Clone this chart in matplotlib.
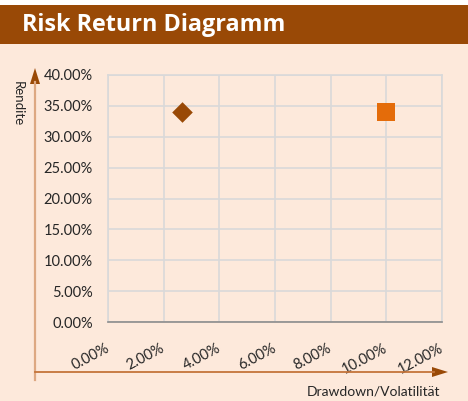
import matplotlib
matplotlib.use("Agg")
import matplotlib.pyplot as plt
from matplotlib.patches import Rectangle, Polygon
from matplotlib.ticker import FuncFormatter, MultipleLocator

W, H = 468, 401
title = "Risk Return Diagramm"
x_label = "Drawdown/Volatilität"
y_label = "Rendite"
# data points (x = risk %, y = return %)
diamond_x = [2.65]
diamond_y = [34.0]
square_x = [10.0]
square_y = [34.0]

bg = "#FDE9DB"
dark = "#994906"
fig = plt.figure(figsize=(W / 100, H / 100), dpi=100)
fig.patch.set_facecolor(bg)
plt.rcParams['font.family'] = ['Lato', 'DejaVu Sans']

# title bar
fig.patches.append(Rectangle((0, 1 - 44 / H), 1, 39 / H, transform=fig.transFigure,
                             facecolor=dark, edgecolor="none", zorder=0))
fig.patches.append(Rectangle((0, 1 - 5 / H), 1, 5 / H, transform=fig.transFigure,
                             facecolor="white", edgecolor="none", zorder=0))
fig.text(22 / W, 1 - 25 / H, title, color="white", fontsize=16.8, fontweight="bold",
         va="center", ha="left", family=["Open Sans", "DejaVu Sans"])

ax = fig.add_axes([108 / W, (H - 322) / H, (442 - 108) / W, (322 - 75) / H])
ax.set_facecolor(bg)
ax.set_xlim(0, 12)
ax.set_ylim(0, 40)
ax.xaxis.set_major_locator(MultipleLocator(2))
ax.yaxis.set_major_locator(MultipleLocator(5))
ax.grid(True, color="#D9D9D9", linewidth=1.2)
ax.set_axisbelow(True)
for s in ["top", "right", "left"]:
    ax.spines[s].set_color("#D9D9D9")
    ax.spines[s].set_linewidth(1.2)
ax.spines["bottom"].set_color("#8C8C8C")
ax.spines["bottom"].set_linewidth(1.2)
ax.tick_params(length=0, labelsize=10.5, colors="#262626")
ax.tick_params(axis="y", pad=11)
fmt = FuncFormatter(lambda v, p: f"{v:.2f}%")
ax.xaxis.set_major_formatter(fmt)
ax.yaxis.set_major_formatter(fmt)
for lab in ax.get_xticklabels():
    lab.set_rotation(28)
    lab.set_ha("right")
    lab.set_va("center")
    lab.set_rotation_mode("anchor")
ax.tick_params(axis="x", pad=18)

ax.scatter(diamond_x, diamond_y, marker="D", s=110, color=dark, zorder=3, linewidths=0)
ax.scatter(square_x, square_y, marker="s", s=175, color="#E46C0A", zorder=3, linewidths=0)

# axis arrows (in figure pixels, origin bottom-left)
def px(x, y):
    return (x / W, 1 - y / H)

fig.add_artist(plt.Line2D([35 / W, 35 / W], [1 - 380 / H, 1 - 82 / H],
                          transform=fig.transFigure, color="#DDA882", lw=1.6))
fig.add_artist(Polygon([px(35, 68), px(30, 84), px(40, 84)], closed=True,
                       transform=fig.transFigure, facecolor=dark, edgecolor="none"))
fig.add_artist(plt.Line2D([35 / W, 434 / W], [1 - 372 / H, 1 - 372 / H],
                          transform=fig.transFigure, color="#C4743A", lw=1.3))
fig.add_artist(Polygon([px(448, 372), px(432, 367), px(432, 377)], closed=True,
                       transform=fig.transFigure, facecolor=dark, edgecolor="none"))

fig.text(18 / W, 1 - 104 / H, y_label, rotation=-90, fontsize=9.5, color="#262626",
         ha="center", va="center")
fig.text(440 / W, 1 - 392 / H, x_label, fontsize=10, color="#262626",
         ha="right", va="center")

fig.savefig("out.png", dpi=100, facecolor=bg)
